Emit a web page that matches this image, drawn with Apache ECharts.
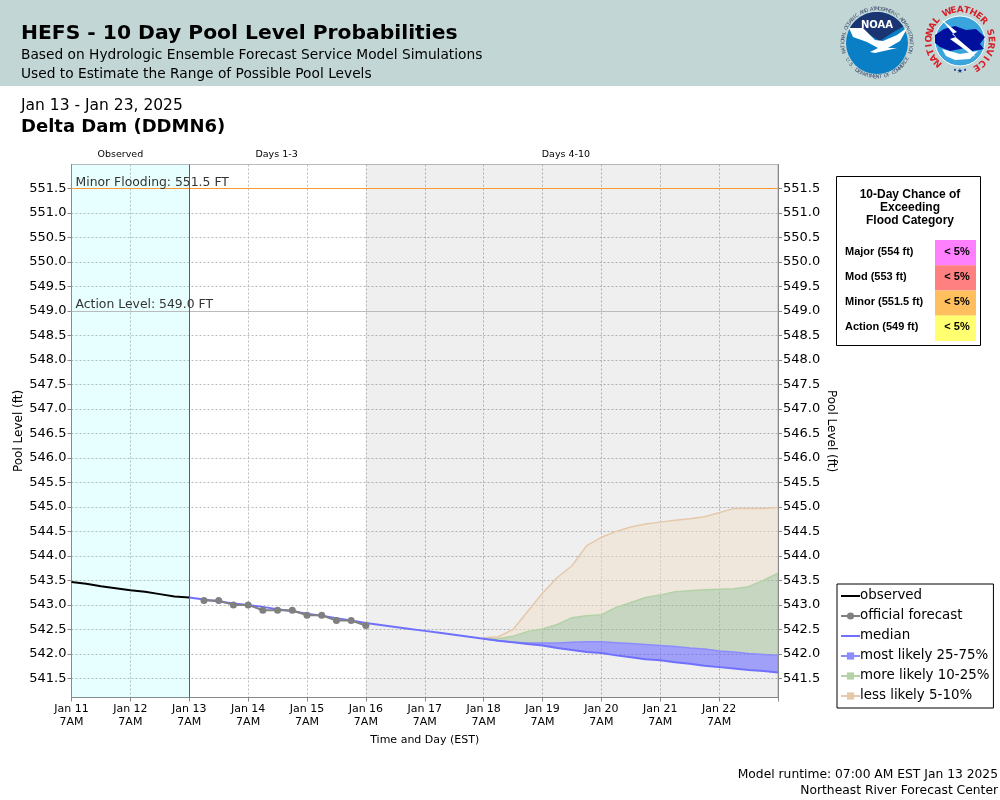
<!DOCTYPE html>
<html>
<head>
<meta charset="utf-8">
<title>HEFS - 10 Day Pool Level Probabilities</title>
<script src="https://cdn.jsdelivr.net/npm/echarts@6/dist/echarts.min.js"></script>
<style>
    html, body { margin: 0; padding: 0; background: #fff; }
    #chart { width: 1000px; height: 800px; }
</style>
</head>
<body>
<div id="chart"></div>
<script>
// x values are hours after Jan 11 7AM, the axis has one slot every 6 hours
var xTickLabels = ['Jan 11', 'Jan 12', 'Jan 13', 'Jan 14', 'Jan 15', 'Jan 16', 'Jan 17', 'Jan 18', 'Jan 19', 'Jan 20', 'Jan 21', 'Jan 22'];
var yTicks = [541.5, 542, 542.5, 543, 543.5, 544, 544.5, 545, 545.5, 546, 546.5, 547, 547.5, 548, 548.5, 549, 549.5, 550, 550.5, 551, 551.5];

var observedHours = [0, 6, 12, 18, 24, 30, 36, 42, 48];
var observedLevels = [543.47, 543.43, 543.38, 543.34, 543.30, 543.27, 543.22, 543.17, 543.15];

var forecastHours = [54, 60, 66, 72, 78, 84, 90, 96, 102, 108, 114, 120];
var forecastLevels = [543.09, 543.09, 543.00, 543.00, 542.89, 542.89, 542.89, 542.79, 542.79, 542.68, 542.68, 542.58];

var medianHours = [48, 54, 60, 66, 72, 78, 84, 90, 96, 102, 108, 114, 120, 126, 132, 138, 144, 150, 156, 162, 168, 174, 180, 186, 192, 198, 204, 210, 216, 222, 228, 234, 240, 246, 252, 258, 264, 270, 276, 282, 288];
var medianLevels = [543.15, 543.11, 543.07, 543.03, 543.00, 542.96, 542.91, 542.87, 542.82, 542.78, 542.73, 542.68, 542.63, 542.59, 542.55, 542.51, 542.47, 542.43, 542.39, 542.35, 542.31, 542.27, 542.24, 542.20, 542.17, 542.12, 542.08, 542.04, 542.02, 541.97, 541.93, 541.89, 541.87, 541.83, 541.80, 541.76, 541.73, 541.70, 541.67, 541.65, 541.62];

var bandHours = [168, 174, 180, 186, 192, 198, 204, 210, 216, 222, 228, 234, 240, 246, 252, 258, 264, 270, 276, 282, 288];
var p25Levels = [542.31, 542.27, 542.24, 542.20, 542.17, 542.12, 542.08, 542.04, 542.02, 541.97, 541.93, 541.89, 541.87, 541.83, 541.80, 541.76, 541.73, 541.70, 541.67, 541.65, 541.62];
var p75Levels = [542.31, 542.27, 542.24, 542.22, 542.22, 542.22, 542.24, 542.25, 542.25, 542.23, 542.21, 542.19, 542.17, 542.15, 542.12, 542.10, 542.06, 542.04, 542.01, 541.99, 541.97];
var p90Levels = [542.31, 542.31, 542.36, 542.46, 542.51, 542.60, 542.74, 542.78, 542.80, 542.95, 543.05, 543.15, 543.20, 543.27, 543.29, 543.31, 543.32, 543.33, 543.37, 543.50, 543.65];
var p95Levels = [542.33, 542.35, 542.50, 542.87, 543.24, 543.56, 543.80, 544.21, 544.38, 544.50, 544.59, 544.65, 544.69, 544.73, 544.76, 544.80, 544.88, 544.97, 544.97, 544.97, 544.99];

var floodLabels = ['Major (554 ft)', 'Mod (553 ft)', 'Minor (551.5 ft)', 'Action (549 ft)'];
var floodChances = ['< 5%', '< 5%', '< 5%', '< 5%'];
var floodColors = ['#ff80ff', '#ff8080', '#ffbf5f', '#ffff70'];

var legendNames = ['observed', 'official forecast', 'median', 'most likely 25-75%', 'more likely 10-25%', 'less likely 5-10%'];
var linesOnly = ['observed', 'median'];

var font = '"DejaVu Sans", sans-serif';
var xSlots = observedHours.slice(0, 8).concat(medianHours).map(String);

function pairs(xs, ys) {
    return xs.map(function(x, i) { return [String(x), ys[i]]; });
}
function diff(top, bottom) {
    return bandHours.map(function(h, i) { return [String(h), +(top[i] - bottom[i]).toFixed(2)]; });
}
function bandSeries(name, data, lineColor, fillColor) {
    return {
        name: name,
        type: 'line',
        stack: 'band',
        data: data,
        symbol: 'rect',
        symbolSize: 7,
        showSymbol: false,
        silent: true,
        itemStyle: { color: lineColor },
        lineStyle: { color: lineColor, width: 1.5 },
        areaStyle: { color: fillColor, opacity: 1 }
    };
}
function txt(x, y, text, size, weight, extra) {
    var style = { x: x, y: y, text: text, fill: '#000', font: (weight || 'normal') + ' ' + size + 'px ' + font };
    for (var k in extra) { style[k] = extra[k]; }
    return { type: 'text', silent: true, z: 20, style: style };
}
// single letters set around a ring, angles clockwise from 12 o'clock
function arcText(str, cx, cy, r, startDeg, stepDeg, fill, fontStr, flip) {
    return str.split('').map(function(ch, i) {
        var a = (startDeg + i * stepDeg) * Math.PI / 180;
        return {
            type: 'text', silent: true, z: 21,
            x: cx + r * Math.sin(a),
            y: cy - r * Math.cos(a),
            rotation: flip ? Math.PI - a : -a,
            style: { text: ch, fill: fill, font: fontStr, align: 'center', verticalAlign: 'middle' }
        };
    });
}
function poly(points, fill) {
    return { type: 'polygon', silent: true, z: 21, shape: { points: points }, style: { fill: fill } };
}
function circle(cx, cy, r, fill, stroke) {
    return { type: 'circle', silent: true, z: 20, shape: { cx: cx, cy: cy, r: r }, style: { fill: fill, stroke: stroke || null } };
}

function noaaLogo() {
    var navy = [];
    for (var d = -62; d <= 62; d += 6) {
        var a = d * Math.PI / 180;
        navy.push([877 + 31 * Math.sin(a), 43 - 31 * Math.cos(a)]);
    }
    navy.push([892, 33], [880, 41], [870, 35]);
    return [
        circle(877, 43, 31, '#0a7fc6'),
        poly(navy, '#1b3572'),
        poly([[849, 28], [863, 28], [875, 40], [883, 41], [897, 35], [908, 27], [900, 41], [888, 48], [897, 48], [875, 53], [870, 52], [878, 48], [867, 42], [853, 37]], '#fff'),
        { type: 'text', silent: true, z: 22, style: { x: 877, y: 25, text: 'NOAA', fill: '#fff', font: 'bold 10px ' + font, align: 'center', verticalAlign: 'middle' } }
    ].concat(
        arcText('NATIONAL OCEANIC AND ATMOSPHERIC ADMINISTRATION', 877, 43, 34, -105, 4.57, '#3b4a6a', '5px ' + font),
        arcText('U.S. DEPARTMENT OF COMMERCE', 877, 43, 34, 240, -4.7, '#3b4a6a', '5px ' + font, true)
    );
}
function nwsLogo() {
    return [
        circle(960, 41, 25, '#3aa5dd', '#fff'),
        poly([[935, 35], [944, 29], [955, 26], [966, 30], [976, 29], [985, 37], [980, 44], [984, 49], [972, 51], [965, 48], [950, 51], [940, 47], [935, 43]], '#00109c'),
        poly([[942, 49], [960, 54], [978, 51], [970, 59], [955, 60], [946, 56]], '#fff'),
        poly([[941, 19], [957, 32], [952, 34], [972, 51], [975, 57], [950, 39], [956, 37]], '#fff')
    ].concat(
        arcText('NATIONAL WEATHER SERVICE', 960, 41, 31, -135, 12.3, '#d8202a', 'bold 9px ' + font),
        arcText('\u2022\u2605\u2022', 960, 41, 30, 190, -10, '#1c2f90', '7px ' + font, true)
    );
}
function floodTable() {
    var els = [
        { type: 'rect', silent: true, z: 19, shape: { x: 836.5, y: 176.5, width: 144, height: 169 }, style: { fill: '#fff', stroke: '#000', lineWidth: 1 } }
    ];
    ['10-Day Chance of', 'Exceeding', 'Flood Category'].forEach(function(line, i) {
        els.push({ type: 'text', silent: true, z: 20, style: { x: 910, y: 195 + i * 13, text: line, fill: '#000', font: 'bold 12px "Liberation Sans", sans-serif', align: 'center', verticalAlign: 'middle' } });
    });
    floodLabels.forEach(function(label, i) {
        var top = 240 + i * 25.2;
        els.push({ type: 'rect', silent: true, z: 20, shape: { x: 935, y: top, width: 41, height: 25.4 }, style: { fill: floodColors[i] } });
        els.push({ type: 'text', silent: true, z: 21, style: { x: 845, y: top + 11.5, text: label, fill: '#000', font: 'bold 11px "Liberation Sans", sans-serif', verticalAlign: 'middle' } });
        els.push({ type: 'text', silent: true, z: 21, style: { x: 957, y: top + 11.5, text: floodChances[i], fill: '#000', font: 'bold 11px "Liberation Sans", sans-serif', align: 'center', verticalAlign: 'middle' } });
    });
    return els;
}

var myChart = echarts.init(document.getElementById('chart'), null, { renderer: 'canvas' });

var xAxisOpt = {
    type: 'category',
    data: xSlots,
    boundaryGap: false,
    name: 'Time and Day (EST)',
    nameLocation: 'middle',
    nameGap: 37,
    nameTextStyle: { fontFamily: font, fontSize: 11, color: '#000' },
    axisLine: { onZero: false, lineStyle: { color: '#888' } },
    axisTick: { show: true, length: 4, interval: 3, lineStyle: { color: '#888' } },
    axisLabel: {
        fontFamily: font,
        fontSize: 11,
        color: '#000',
        lineHeight: 13,
        margin: 5,
        interval: 3,
        formatter: function(v, i) { return i < 48 ? xTickLabels[i / 4] + '\n7AM' : ''; }
    },
    splitLine: { show: true, interval: 3, lineStyle: { color: '#bbb', type: [2, 2] } }
};
function yAxisOpt(position, rotate, gap) {
    return {
        type: 'value',
        position: position,
        min: 541.11,
        max: 551.99,
        name: 'Pool Level (ft)',
        nameLocation: 'middle',
        nameRotate: rotate,
        nameGap: gap,
        nameMoveOverlap: false,
        nameTextStyle: { fontFamily: font, fontSize: 12, color: '#000' },
        axisLine: { show: true, lineStyle: { color: '#888' } },
        axisTick: { show: true, length: 4, customValues: yTicks, lineStyle: { color: '#888' } },
        axisLabel: {
            fontFamily: font,
            fontSize: 13,
            color: '#000',
            margin: 5,
            padding: [2, 0, 0, 0],
            customValues: yTicks,
            formatter: function(v) { return v.toFixed(1); }
        },
        splitLine: { show: position === 'left', lineStyle: { color: '#bbb', type: [2, 2] } }
    };
}

var option = {
    backgroundColor: '#fff',
    animation: false,
    grid: { left: 71.5, right: 222, top: 164.5, height: 533, outerBoundsMode: 'none', show: true, backgroundColor: 'transparent', borderColor: '#bbb', borderWidth: 1 },
    xAxis: xAxisOpt,
    yAxis: [yAxisOpt('left', 90, 47), yAxisOpt('right', -90, 47)],
    legend: {
        data: legendNames.map(function(n) {
            return linesOnly.indexOf(n) > -1 ? { name: n, itemStyle: { opacity: 0 } } : { name: n };
        }),
        orient: 'vertical',
        left: 837,
        top: 584,
        backgroundColor: '#fff',
        borderColor: '#000',
        borderWidth: 1,
        padding: [4, 4, 4, 3],
        itemWidth: 19,
        itemHeight: 9,
        itemGap: 4,
        selectedMode: false,
        textStyle: { fontFamily: font, fontSize: 13.4, color: '#000', padding: [0, 0, 0, -5], lineHeight: 16 }
    },
    graphic: {
        elements: [
            { type: 'rect', silent: true, z: 10, shape: { x: 0, y: 0, width: 1000, height: 86 }, style: { fill: '#c2d7d5' } },
            txt(21, 24, 'HEFS - 10 Day Pool Level Probabilities', 20.3, 'bold', { verticalAlign: 'top' }),
            txt(21, 48, 'Based on Hydrologic Ensemble Forecast Service Model Simulations', 13.75, 'normal', { verticalAlign: 'top' }),
            txt(21, 67, 'Used to Estimate the Range of Possible Pool Levels', 13.75, 'normal', { verticalAlign: 'top' }),
            txt(21, 98, 'Jan 13 - Jan 23, 2025', 15.5, 'normal', { verticalAlign: 'top' }),
            txt(21, 118, 'Delta Dam (DDMN6)', 18, 'bold', { verticalAlign: 'top' }),
            txt(998, 769, 'Model runtime: 07:00 AM EST Jan 13 2025', 12.3, 'normal', { align: 'right', verticalAlign: 'top' }),
            txt(998, 785, 'Northeast River Forecast Center', 12.3, 'normal', { align: 'right', verticalAlign: 'top' })
        ].concat(floodTable(), noaaLogo(), nwsLogo())
    },
    series: [
        {
            name: 'base',
            type: 'line',
            stack: 'band',
            data: pairs(bandHours, p25Levels),
            symbol: 'none',
            silent: true,
            lineStyle: { opacity: 0 },
            markArea: {
                silent: true,
                label: { position: 'top', distance: 5, fontFamily: font, fontSize: 9.5, color: '#000' },
                data: [
                    [{ name: 'Observed', xAxis: '0', label: { offset: [-10, 0] }, itemStyle: { color: 'rgba(0, 255, 255, 0.09)' } }, { xAxis: '48' }],
                    [{ name: 'Days 1-3', xAxis: '48', label: { offset: [-1, 0] }, itemStyle: { color: 'rgba(255, 255, 255, 0)' } }, { xAxis: '120' }],
                    [{ name: 'Days 4-10', xAxis: '120', label: { offset: [-6, 0] }, itemStyle: { color: 'rgba(0, 0, 0, 0.063)' } }, { xAxis: '288' }]
                ]
            },
            markLine: {
                silent: true,
                symbol: 'none',
                label: { position: 'insideStartTop', distance: 0, padding: [0, 0, 0, 4], fontFamily: font, fontSize: 12.4, color: '#333' },
                data: [
                    { yAxis: 551.5, name: 'Minor Flooding: 551.5 FT', label: { formatter: '{b}' }, lineStyle: { color: '#ff9933', width: 1, type: 'solid' } },
                    { yAxis: 549, name: 'Action Level: 549.0 FT', label: { formatter: '{b}' }, lineStyle: { color: '#bbb', width: 1, type: 'solid' } },
                    { xAxis: '48', label: { show: false }, lineStyle: { color: '#c83232', width: 1, type: 'solid' } }
                ]
            }
        },
        bandSeries('most likely 25-75%', diff(p75Levels, p25Levels), '#8c8cff', 'rgba(107, 107, 255, 0.6)'),
        bandSeries('more likely 10-25%', diff(p90Levels, p75Levels), '#b4d2a8', 'rgba(157, 189, 145, 0.5)'),
        bandSeries('less likely 5-10%', diff(p95Levels, p90Levels), '#e5c9ab', 'rgba(239, 221, 201, 0.5)'),
        {
            name: 'median',
            type: 'line',
            z: 5,
            data: pairs(medianHours, medianLevels),
            symbol: 'none',
            silent: true,
            itemStyle: { color: '#7070ff' },
            lineStyle: { color: '#7070ff', width: 2 }
        },
        {
            name: 'official forecast',
            type: 'line',
            z: 6,
            data: pairs(forecastHours, forecastLevels),
            symbol: 'circle',
            symbolSize: 7,
            silent: true,
            itemStyle: { color: '#808080' },
            lineStyle: { color: '#808080', width: 2 }
        },
        {
            name: 'observed',
            type: 'line',
            z: 7,
            data: pairs(observedHours, observedLevels),
            symbol: 'none',
            silent: true,
            itemStyle: { color: '#000' },
            lineStyle: { color: '#000', width: 2 }
        }
    ]
};
myChart.setOption(option);
</script>
</body>
</html>
